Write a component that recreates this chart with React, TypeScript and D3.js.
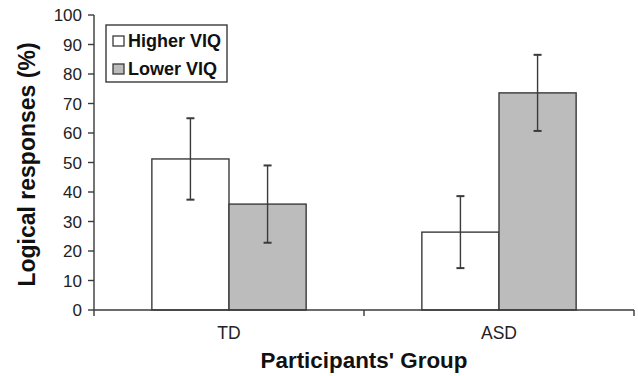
import React from "react";
import * as d3 from "d3";

const groups = ["TD", "ASD"];
const series = ["Higher VIQ", "Lower VIQ"];
const means = [
  [51.2, 35.9],
  [26.4, 73.6],
];
const errors = [
  [13.8, 13.1],
  [12.2, 12.9],
];
const yTicks = [0, 10, 20, 30, 40, 50, 60, 70, 80, 90, 100];
const fills = ["#ffffff", "#bcbcbc"];

const W = 638;
const H = 376;
const left = 94;
const right = 634;
const top = 15;
const bottom = 310;

const App = () => {
  const x = d3.scaleBand().domain(groups).range([left, right]).padding(0);
  const xs = d3.scaleBand().domain(series).range([0, x.bandwidth()]).paddingInner(0).paddingOuter(0.75);
  const y = d3.scaleLinear().domain([0, 100]).range([bottom, top]);
  const ink = "#3a3a3a";
  const font = "'Liberation Sans', Arial, sans-serif";

  return (
    <svg width={W} height={H} style={{ position: "absolute", left: 0, top: 0 }} fontFamily={font}>
      <rect width={W} height={H} fill="#fff" />
      {/* bars */}
      {groups.map((g, gi) =>
        series.map((s, si) => {
          const bx = (x(g) ?? 0) + (xs(s) ?? 0);
          const v = means[gi][si];
          return (
            <rect key={g + s} x={bx} y={y(v)} width={xs.bandwidth()} height={y(0) - y(v)}
              fill={fills[si]} stroke={ink} strokeWidth={1.4} />
          );
        })
      )}
      {/* error bars */}
      {groups.map((g, gi) =>
        series.map((s, si) => {
          const cx = (x(g) ?? 0) + (xs(s) ?? 0) + xs.bandwidth() / 2;
          const v = means[gi][si];
          const e = errors[gi][si];
          return (
            <g key={"e" + g + s} stroke={ink} strokeWidth={1.4}>
              <line x1={cx} x2={cx} y1={y(v + e)} y2={y(v - e)} />
              <line x1={cx - 4} x2={cx + 4} y1={y(v + e)} y2={y(v + e)} strokeWidth={2} />
              <line x1={cx - 4} x2={cx + 4} y1={y(v - e)} y2={y(v - e)} strokeWidth={2} />
            </g>
          );
        })
      )}
      {/* y axis */}
      <line x1={left} x2={left} y1={y(100)} y2={y(0)} stroke={ink} strokeWidth={1.4} />
      {yTicks.map((t) => (
        <g key={t}>
          <line x1={left - 6} x2={left} y1={y(t)} y2={y(t)} stroke={ink} strokeWidth={1.4} />
          <text x={left - 12} y={y(t)} dy="0.36em" textAnchor="end" fontSize={17} fill="#222">{t}</text>
        </g>
      ))}
      {/* x axis */}
      <line x1={left} x2={right} y1={y(0)} y2={y(0)} stroke={ink} strokeWidth={1.4} />
      {[left, ...groups.map((g) => (x(g) ?? 0) + x.bandwidth())].map((t, i) => (
        <line key={i} x1={t} x2={t} y1={y(0)} y2={y(0) + 6} stroke={ink} strokeWidth={1.4} />
      ))}
      {groups.map((g) => (
        <text key={g} x={(x(g) ?? 0) + x.bandwidth() / 2} y={339} textAnchor="middle" fontSize={17.5} fill="#222">{g}</text>
      ))}
      <text x={364} y={368} textAnchor="middle" fontSize={22.4} fontWeight="bold" fill="#111">Participants' Group</text>
      <text transform={`translate(35,${164.5}) rotate(-90)`} textAnchor="middle" fontSize={23} fontWeight="bold" fill="#111">Logical responses (%)</text>
      {/* legend */}
      <rect x={106} y={25} width={121} height={57} fill="#fff" stroke={ink} strokeWidth={1.4} />
      {series.map((s, i) => (
        <g key={s}>
          <rect x={113} y={36 + i * 28} width={11} height={10} fill={fills[i]} stroke={ink} strokeWidth={1.3} />
          <text x={128} y={47 + i * 28} fontSize={18} fontWeight="bold" fill="#111">{s}</text>
        </g>
      ))}
    </svg>
  );
};

export default App;
